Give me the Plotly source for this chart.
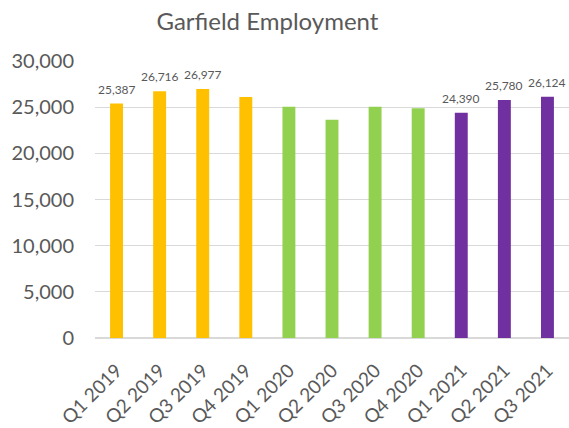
import plotly.graph_objects as go

categories = ["Q1 2019", "Q2 2019", "Q3 2019", "Q4 2019", "Q1 2020", "Q2 2020",
              "Q3 2020", "Q4 2020", "Q1 2021", "Q2 2021", "Q3 2021"]
employment = [25387, 26716, 26977, 26100, 25050, 23650, 25050, 24880, 24390, 25780, 26124]
labelled = [True, True, True, False, False, False, False, False, True, True, True]
bar_colors = ["#FFC000"] * 4 + ["#92D050"] * 4 + ["#7030A0"] * 3

fig = go.Figure(go.Bar(
    x=categories, y=employment,
    marker=dict(color=bar_colors, line=dict(width=0)),
    cliponaxis=False,
))

for cat, val, show in zip(categories, employment, labelled):
    if show:
        fig.add_annotation(x=cat, y=val, text=f"{val:,}", showarrow=False,
                           yanchor="bottom", yshift=5,
                           font=dict(size=12, color="#595959", family="Lato"))

fig.update_layout(
    width=569, height=428,
    margin=dict(l=95, r=0, t=61, b=90),
    paper_bgcolor="white", plot_bgcolor="white",
    title=dict(text="Garfield Employment", x=0.47, xanchor="center", y=0.949, yanchor="middle",
               font=dict(size=24, color="#595959", family="Lato")),
    bargap=0.7,
    showlegend=False,
    font=dict(family="Lato", color="#595959"),
)
fig.update_yaxes(range=[0, 30000], dtick=5000, tickformat=",", gridcolor="#D9D9D9",
                 gridwidth=1, zeroline=True, zerolinecolor="#D9D9D9", showline=False,
                 tickfont=dict(size=20, color="#595959"), ticks="", ticklen=0,
                 automargin=False, ticklabelstandoff=20)
fig.update_xaxes(tickangle=-45, tickfont=dict(size=19, color="#595959"), showline=True,
                 linecolor="#D9D9D9", ticks="", automargin=False, ticklabelstandoff=13)

fig.write_html("out.html", config={"displayModeBar": False},
               post_script="document.body.style.margin='0';")
